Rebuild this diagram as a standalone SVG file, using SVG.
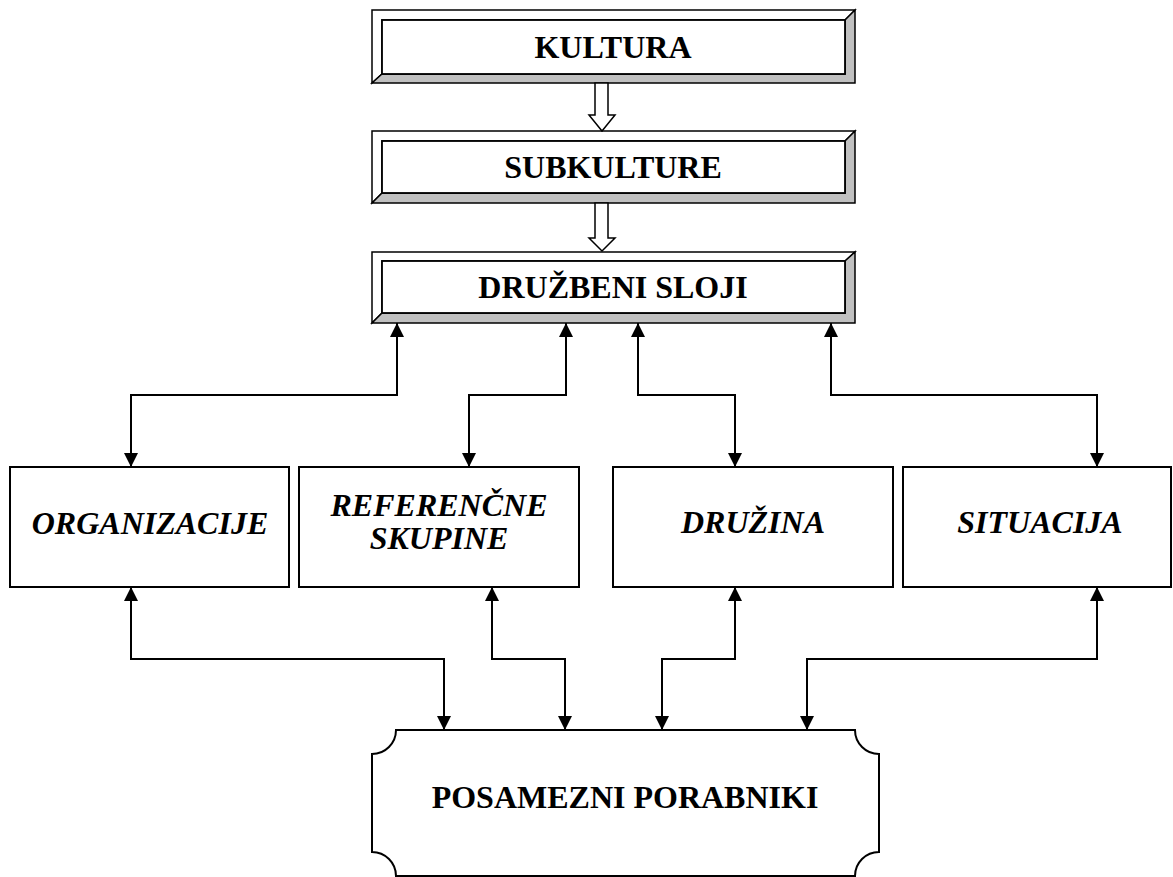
<svg xmlns="http://www.w3.org/2000/svg" width="1173" height="877" viewBox="0 0 1173 877">
<style>
.bev-light{fill:#ffffff;stroke:#000;stroke-width:1.5;stroke-linejoin:miter}
.bev-dark{fill:#c0c0c0;stroke:#000;stroke-width:1.5;stroke-linejoin:miter}
.bev-face{fill:#ffffff;stroke:#000;stroke-width:1.8}
.box{fill:#ffffff;stroke:#000;stroke-width:2}
.blk{fill:#ffffff;stroke:#000;stroke-width:1.5;stroke-linejoin:miter}
.conn{fill:none;stroke:#000;stroke-width:2}
.t{font-family:"Liberation Serif","Times New Roman",serif;font-weight:bold;font-size:32px;text-anchor:middle;fill:#000}
.ti{font-family:"Liberation Serif","Times New Roman",serif;font-weight:bold;font-style:italic;font-size:32px;text-anchor:middle;fill:#000}
</style>
<defs>
<marker id="ah" viewBox="0 0 14 14" refX="14" refY="7" markerWidth="14" markerHeight="14" markerUnits="userSpaceOnUse" orient="auto-start-reverse">
<path d="M0,0 L14,7 L0,14 Z" fill="#000"/>
</marker>
</defs>

<g id="kultura">
<polygon class="bev-light" points="372,10 855,10 845,20 382,20 382,74 372,83"/>
<polygon class="bev-dark" points="855,10 855,83 372,83 382,74 845,74 845,20"/>
<rect class="bev-face" x="382" y="20" width="463" height="54"/>
<text class="t" x="613" y="58">KULTURA</text>
</g>

<g id="subkulture">
<polygon class="bev-light" points="372,131 855,131 845,141 382,141 382,193 372,203"/>
<polygon class="bev-dark" points="855,131 855,203 372,203 382,193 845,193 845,141"/>
<rect class="bev-face" x="382" y="141" width="463" height="52"/>
<text class="t" x="613" y="178">SUBKULTURE</text>
</g>

<g id="druzbeni-sloji">
<polygon class="bev-light" points="372,252 855,252 845,261 382,261 382,313 372,323"/>
<polygon class="bev-dark" points="855,252 855,323 372,323 382,313 845,313 845,261"/>
<rect class="bev-face" x="382" y="261" width="463" height="52"/>
<text class="t" x="613" y="298">DRUŽBENI SLOJI</text>
</g>

<g id="organizacije">
<rect class="box" x="10" y="467" width="279" height="120"/>
<text class="ti" x="150" y="534">ORGANIZACIJE</text>
</g>

<g id="referencne-skupine">
<rect class="box" x="299" y="467" width="280" height="120"/>
<text class="ti" x="439" y="516">REFERENČNE</text>
<text class="ti" x="439" y="549">SKUPINE</text>
</g>

<g id="druzina">
<rect class="box" x="613" y="467" width="280" height="120"/>
<text class="ti" x="753" y="533">DRUŽINA</text>
</g>

<g id="situacija">
<rect class="box" x="903" y="467" width="268" height="120"/>
<text class="ti" x="1040" y="533">SITUACIJA</text>
</g>

<g id="posamezni-porabniki">
<path class="box" d="M396,730 H855 A24,24 0 0 0 879,754 V852 A24,24 0 0 0 855,876 H396 A24,24 0 0 0 372,852 V754 A24,24 0 0 0 396,730 Z"/>
<text class="t" x="625" y="808">POSAMEZNI PORABNIKI</text>
</g>

<g id="connectors">
<polygon class="blk" points="595,83 608,83 608,115 615,115 602,131 589,115 595,115"/>
<polygon class="blk" points="595,203 608,203 608,238 615,238 602,251 589,238 595,238"/>
<path class="conn" d="M397,323 V395 H131 V467" marker-start="url(#ah)" marker-end="url(#ah)"/>
<path class="conn" d="M566,323 V395 H469 V467" marker-start="url(#ah)" marker-end="url(#ah)"/>
<path class="conn" d="M638,323 V395 H735 V467" marker-start="url(#ah)" marker-end="url(#ah)"/>
<path class="conn" d="M831,323 V395 H1097 V467" marker-start="url(#ah)" marker-end="url(#ah)"/>
<path class="conn" d="M131,587 V659 H444 V730" marker-start="url(#ah)" marker-end="url(#ah)"/>
<path class="conn" d="M492,587 V659 H565 V730" marker-start="url(#ah)" marker-end="url(#ah)"/>
<path class="conn" d="M735,587 V659 H662 V730" marker-start="url(#ah)" marker-end="url(#ah)"/>
<path class="conn" d="M1097,587 V659 H807 V730" marker-start="url(#ah)" marker-end="url(#ah)"/>
</g>
</svg>
